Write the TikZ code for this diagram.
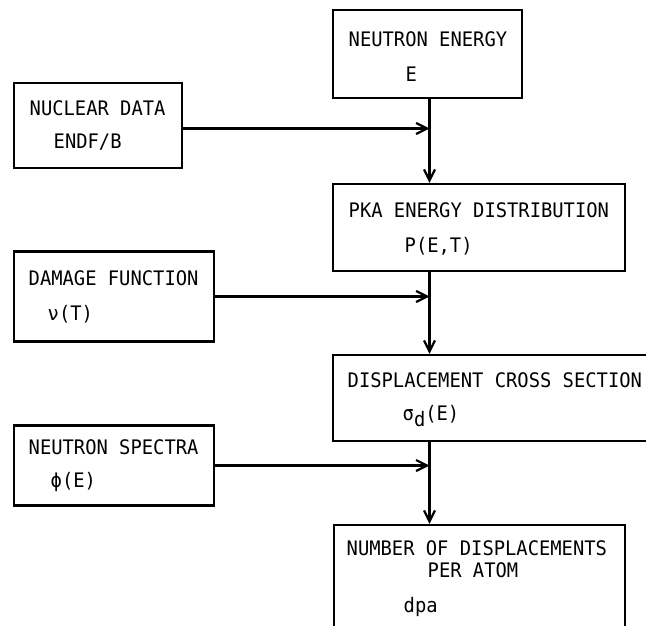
\documentclass[tikz,border=0pt]{standalone}
\usepackage{fontspec}
\newfontfamily\tw[FakeStretch=0.94]{DejaVu Sans Mono}
\usetikzlibrary{arrows.meta}
\begin{document}
\begin{tikzpicture}[x=1pt,y=-1pt,
  box/.style={draw, line width=2.2pt, inner sep=0pt},
  txt/.style={anchor=base west, inner sep=0pt, font=\tw\fontsize{20pt}{24pt}\selectfont},
  arr/.style={line width=2.2pt, -{Straight Barb[length=11pt,width=11pt]}}]
\useasboundingbox (0,0) rectangle (646,626);
\clip (0,0) rectangle (646,626);
% boxes
\node[box, minimum width=189pt, minimum height=88pt] (ne) at (427.5,54) {};
\node[box, minimum width=168pt, minimum height=85pt] (nd) at (98,125.5) {};
\node[box, minimum width=292pt, minimum height=87pt] (pka) at (479,227.5) {};
\node[box, minimum width=200pt, minimum height=90pt] (dmg) at (114,296.5) {};
\node[box, minimum width=327pt, minimum height=86pt] (dcs) at (496.5,398) {};
\node[box, minimum width=200pt, minimum height=80pt] (ns) at (114,465.5) {};
\node[box, minimum width=291pt, minimum height=120pt] (num) at (479.5,585) {};
% texts
\node[txt] (t1) at (348.5,47) {NEUTRON ENERGY};
\node[txt] (t2) at (405.5,81.5) {E};
\node[txt] (t3) at (29.5,115) {NUCLEAR DATA};
\node[txt] (t4) at (53.5,149) {ENDF/B};
\node[txt] (t5) at (348.5,217) {PKA ENERGY DISTRIBUTION};
\node[txt] (t6) at (404.5,252) {P(E,T)};
\node[txt] (t7) at (28.5,285) {DAMAGE FUNCTION};
\node[txt] (t8) at (47.5,320) {ν(T)};
\node[txt] (t9) at (347.5,387) {DISPLACEMENT CROSS SECTION};
\node[txt] (t10) at (402.5,420) {σ\raisebox{-6pt}{d}(E)};
\node[txt] (t11) at (28.5,454) {NEUTRON SPECTRA};
\node[txt] (t12) at (50.5,487) {ϕ(E)};
\node[txt] (t13) at (346.5,555) {NUMBER OF DISPLACEMENTS};
\node[txt] (t14) at (427.5,577) {PER ATOM};
\node[txt] (t15) at (403.5,612) {dpa};
% connectors
\coordinate (vx) at (429.5,0);
\coordinate (y1) at (0,128.5);
\draw[arr] (ne.south -| vx) -- (pka.north -| vx);
\draw[arr] (pka.south -| vx) -- (dcs.north -| vx);
\draw[arr] (dcs.south -| vx) -- (num.north -| vx);
\draw[arr] (nd.east |- y1) -- (vx |- y1);
\draw[arr] (dmg.east) -- (dmg.east -| vx);
\draw[arr] (ns.east) -- (ns.east -| vx);
\end{tikzpicture}
\end{document}
